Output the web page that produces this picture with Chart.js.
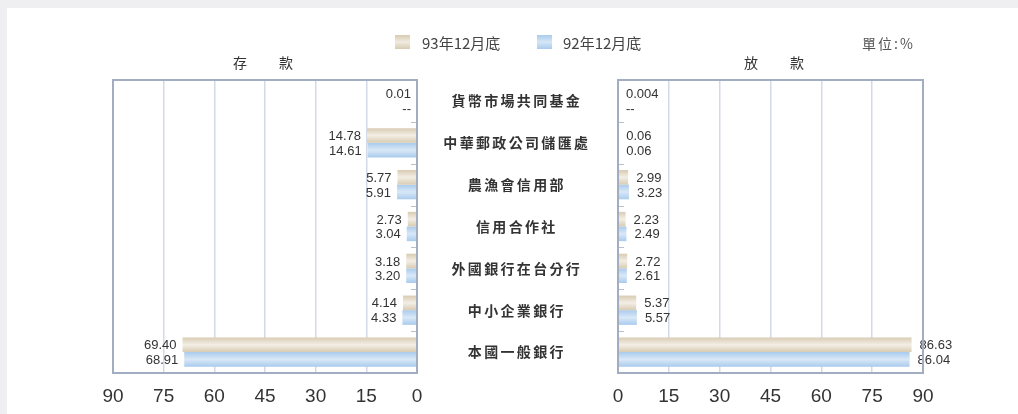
<!DOCTYPE html>
<html>
<head>
<meta charset="utf-8">
<script src="https://cdn.jsdelivr.net/npm/chart.js@4.4.1/dist/chart.umd.min.js"></script>
<style>
  html, body { margin:0; padding:0; width:1018px; height:414px; overflow:hidden; background:#efeff1; }
  #panel { position:absolute; left:7px; top:8px; right:0; bottom:0; background:#fff; }
  canvas { position:absolute; top:0; }
  .txt { position:absolute; font-family:"Noto Sans CJK TC","Liberation Sans",sans-serif; color:#444; white-space:nowrap; }
  .sw { position:absolute; width:15px; height:14px; }
</style>
</head>
<body>
<div id="panel"></div>
<canvas id="left" width="430" height="414" style="left:0"></canvas>
<canvas id="right" width="601" height="414" style="left:417px"></canvas>

<div class="txt" id="t1" style="left:233px;top:52px;font-size:14px;letter-spacing:32px;color:#333"></div>
<div class="txt" id="t2" style="left:744px;top:52px;font-size:14px;letter-spacing:32px;color:#333"></div>

<div class="sw" style="left:395px;top:35px;background:linear-gradient(#d8cbb2,#f1ebe0,#d8cbb2)"></div>
<div class="txt" id="lg1" style="left:422px;top:32px;font-size:15px;"></div>
<div class="sw" style="left:537px;top:35px;background:linear-gradient(#a9cbed,#d6e6f6,#a9cbed)"></div>
<div class="txt" id="lg2" style="left:563px;top:32px;font-size:15px;"></div>
<div class="txt" style="left:862px;top:33px;font-size:14px;letter-spacing:2px;color:#555">單位:%</div>

<script>
// ---------- data ----------
const categories = ['貨幣市場共同基金','中華郵政公司儲匯處','農漁會信用部','信用合作社','外國銀行在台分行','中小企業銀行','本國一般銀行'];
const seriesNames = ['93年12月底','92年12月底'];
const deposit93 = [0.01, 14.78, 5.77, 2.73, 3.18, 4.14, 69.40];
const deposit92 = [null, 14.61, 5.91, 3.04, 3.20, 4.33, 68.91];
const loan93 = [0.004, 0.06, 2.99, 2.23, 2.72, 5.37, 86.63];
const loan92 = [null, 0.06, 3.23, 2.49, 2.61, 5.57, 86.04];
const axisTicks = [0, 15, 30, 45, 60, 75, 90];
const panelTitles = ['存款','放款'];

document.getElementById('lg1').textContent = seriesNames[0];
document.getElementById('lg2').textContent = seriesNames[1];
document.getElementById('t1').textContent = panelTitles[0];
document.getElementById('t2').textContent = panelTitles[1];

const CAT_PCT = 0.7;
const COLORS = [
  {edge:'#d8cbb2', mid:'#f3eee5', solid:'#e6dccb'},
  {edge:'#a9cbed', mid:'#d9e8f7', solid:'#c0d8f0'}
];
const NUM_FONT = '"Liberation Sans", Arial, Helvetica, sans-serif';

function barFill(di) {
  return (ctx) => {
    const chart = ctx.chart;
    const ys = chart.scales && chart.scales.y;
    if (!ys || ctx.type !== 'data' || !isFinite(ys.height) || ys.height <= 0) return COLORS[di].solid;
    const c = ys.getPixelForValue(ctx.dataIndex);
    const cat = ys.height / categories.length;
    const bh = cat * CAT_PCT / 2;
    const top = di === 0 ? c - bh : c;
    const g = chart.ctx.createLinearGradient(0, top, 0, top + bh);
    g.addColorStop(0, COLORS[di].edge);
    g.addColorStop(0.5, COLORS[di].mid);
    g.addColorStop(1, COLORS[di].edge);
    return g;
  };
}

function fmt(v) {
  if (v === null || v === undefined) return '--';
  return v < 0.01 ? String(v) : v.toFixed(2);
}

const framePlugin = {
  id: 'frame',
  afterDatasetsDraw(chart, args, opts) {
    const {ctx, chartArea: a} = chart;
    ctx.save();
    ctx.strokeStyle = '#b8bfcf';
    ctx.lineWidth = 1;
    const cat = (a.bottom - a.top) / categories.length;
    for (let i = 1; i < categories.length; i++) {
      const y = Math.round(a.top + cat * i) + 0.5;
      ctx.beginPath();
      if (opts.side === 'left') { ctx.moveTo(a.right - 6, y); ctx.lineTo(a.right, y); }
      else { ctx.moveTo(a.left, y); ctx.lineTo(a.left + 6, y); }
      ctx.stroke();
    }
    ctx.font = '13px ' + NUM_FONT;
    ctx.fillStyle = '#333';
    ctx.textBaseline = 'middle';
    const xs = chart.scales.x;
    const zero = xs.getPixelForValue(0);
    chart.data.datasets.forEach((ds, di) => {
      const meta = chart.getDatasetMeta(di);
      meta.data.forEach((el, i) => {
        const v = ds.data[i];
        const end = (v === null || v === undefined) ? zero : el.x;
        const y = el.y + 1;
        if (opts.side === 'left') { ctx.textAlign = 'right'; ctx.fillText(fmt(v), end - 6, y); }
        else { ctx.textAlign = 'left'; ctx.fillText(fmt(v), end + 8, y); }
      });
    });
    ctx.strokeStyle = '#a3adc2';
    ctx.lineWidth = 2;
    ctx.strokeRect(a.left, a.top, a.right - a.left, a.bottom - a.top);
    ctx.restore();
  }
};

function makeChart(id, side, d93, d92) {
  const isLeft = side === 'left';
  return new Chart(document.getElementById(id), {
    type: 'bar',
    data: {
      labels: categories,
      datasets: [
        {label: seriesNames[0], data: d93, backgroundColor: barFill(0), categoryPercentage: CAT_PCT, barPercentage: 1.0, borderWidth: 0},
        {label: seriesNames[1], data: d92, backgroundColor: barFill(1), categoryPercentage: CAT_PCT, barPercentage: 1.0, borderWidth: 0}
      ]
    },
    options: {
      indexAxis: 'y',
      responsive: false,
      animation: false,
      devicePixelRatio: 1,
      layout: { padding: isLeft ? {left: 113, right: 13, top: 80, bottom: 0} : {left: 0, right: 95, top: 80, bottom: 0} },
      plugins: { legend: {display: false}, tooltip: {enabled: false}, title: {display: false}, frame: {side: side} },
      scales: {
        x: {
          type: 'linear', min: 0, max: 90, reverse: isLeft,
          afterBuildTicks: (s) => { s.ticks = axisTicks.map(v => ({value: v})); },
          afterFit: (s) => { s.height = 41; },
          grid: { color: '#d3d9e6', lineWidth: 1.5, drawTicks: false },
          border: { display: false },
          ticks: { color: '#333', padding: 12, font: {family: NUM_FONT, size: 19}, maxRotation: 0, autoSkip: false }
        },
        y: {
          display: !isLeft,
          afterFit: (s) => { s.width = isLeft ? 0 : 201; },
          grid: { display: false, drawTicks: false },
          border: { display: false },
          ticks: {
            crossAlign: 'center', padding: 30, color: '#333',
            font: {family: '"Noto Sans CJK TC", sans-serif', size: 14, weight: 'bold'},
            callback: function(v) { return this.getLabelForValue(v).split('').join('\u2006'); }
          }
        }
      }
    },
    plugins: [framePlugin]
  });
}

makeChart('left', 'left', deposit93, deposit92);
makeChart('right', 'right', loan93, loan92);
</script>
</body>
</html>
